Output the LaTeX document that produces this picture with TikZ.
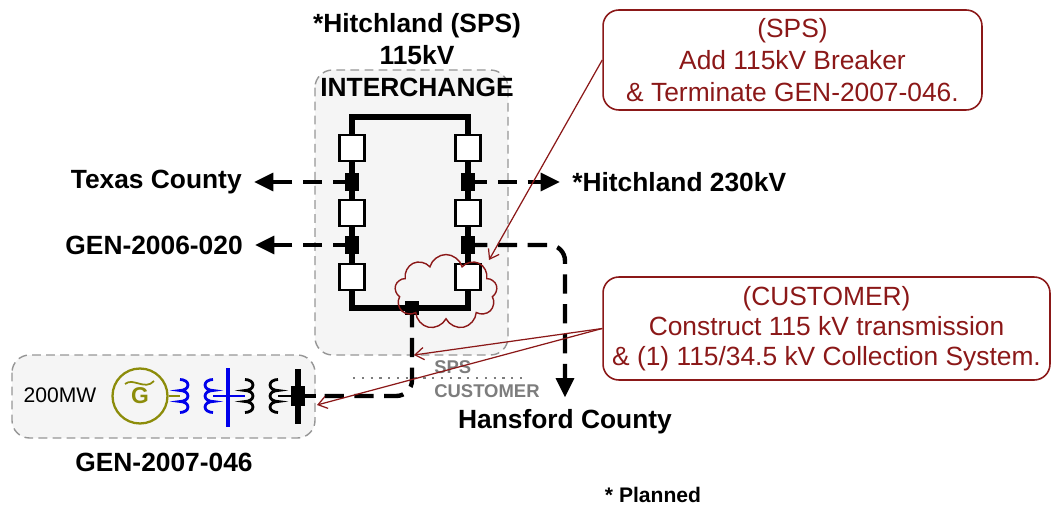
\documentclass[tikz,border=0pt]{standalone}
\usepackage{fontspec}
\setmainfont{Liberation Sans}
\usetikzlibrary{shapes.symbols}
\usetikzlibrary{arrows.meta}

\definecolor{noteRed}{RGB}{139,24,24}
\definecolor{genOlive}{RGB}{140,140,10}
\definecolor{busBlue}{RGB}{0,0,235}
\definecolor{areaGray}{RGB}{150,150,150}
\definecolor{areaFill}{RGB}{245,245,245}
\definecolor{sideGray}{RGB}{125,125,125}

\tikzset{
  area/.style={draw=areaGray, fill=areaFill, line width=0.8pt, dash pattern=on 5pt off 3pt, rounded corners=10pt},
  lbl/.style={font=\fontsize{15}{18}\selectfont\bfseries, inner sep=0pt, outer sep=7pt},
  ring/.style={line width=3.8pt},
  breaker/.style={draw, fill=white, line width=1.5pt, minimum width=14pt, minimum height=15pt, inner sep=0pt},
  junc/.style={fill=black, inner sep=0pt, minimum width=7.5pt, minimum height=10pt},
  feeder/.style={line width=2.5pt, dash pattern=on 11pt off 6pt, -{Triangle[length=11pt,width=10pt]}},
  link/.style={line width=2.5pt, dash pattern=on 11pt off 6pt, rounded corners=9pt},
  note/.style={draw=noteRed, text=noteRed, line width=0.9pt, rounded corners=9pt, align=center, inner sep=2pt},
  pointer/.style={draw=noteRed, line width=0.7pt, -{Straight Barb[length=5pt,width=7pt]}},
  side/.style={font=\fontsize{10.5}{12}\selectfont\bfseries, text=sideGray, inner sep=0pt, anchor=west}
}

\begin{document}
\begin{tikzpicture}[x=0.02cm,y=0.02cm]
  \useasboundingbox (0,0) rectangle (1052,-510);

  % station areas
  \draw[area] (315,-70) rectangle (508,-355);
  \draw[area] (12,-355) rectangle (315,-438);

  % ring bus
  \draw[ring] (352,-117) rectangle (468,-308);
  \foreach \y [count=\i] in {148,213,277} {
    \node[breaker] (brkL\i) at (352,-\y) {};
    \node[breaker] (brkR\i) at (468,-\y) {};
  }
  \foreach \y [count=\i] in {182,245} {
    \node[junc] (jnL\i) at (352,-\y) {};
    \node[junc] (jnR\i) at (468,-\y) {};
  }
  \node[junc, minimum width=8.5pt, minimum height=8.5pt] (jnB) at (412,-308) {};

  \node[lbl, align=center] (title) at (417,-55) {*Hitchland (SPS)\\115kV\\INTERCHANGE};
  \node[lbl, anchor=east] (texas) at (254,-182) {Texas County};
  \node[lbl, anchor=east] (gen020) at (255,-245) {GEN-2006-020};
  \node[lbl, anchor=west] (hitch230) at (560,-182) {*Hitchland 230kV};
  \node[lbl] (hansford) at (565,-422) {Hansford County};
  \node[lbl] (genName) at (164,-462) {GEN-2007-046};
  \node[font=\fontsize{12}{14}\selectfont\bfseries] (planned) at (653,-495) {* Planned};

  % lines out of the ring
  \draw[feeder] (jnL1.center) -- (texas);
  \draw[feeder] (jnL2.center) -- (gen020);
  \draw[feeder] (jnR1.center) -- (hitch230);
  \draw[feeder, rounded corners=9pt] (jnR2.center) -| (hansford);

  % generator
  \node[font=\fontsize{12}{14}\selectfont, inner sep=0pt] (rating) at (60,-395) {200MW};
  \node[circle, draw=genOlive, line width=1.3pt, minimum size=1.1cm, inner sep=0pt,
        text=genOlive, font=\fontsize{13}{15}\selectfont\bfseries] (gen) at (140,-396) {G};
  \draw[genOlive, line width=1pt] (125,-384) .. controls (133,-377) and (145,-391) .. (154,-381);
  \draw[genOlive, line width=1.5pt] (gen) -- (180,-396);
  \foreach \cx/\da/\col in {180/-180/busBlue, 213/180/busBlue, 245/-180/black, 278/180/black}
    \draw[\col, line width=1.6pt] (\cx,-379.5) arc[start angle=90, delta angle=\da, x radius=8, y radius=5.5]
      arc[start angle=90, delta angle=\da, x radius=8, y radius=5.5] arc[start angle=90, delta angle=\da, x radius=8, y radius=5.5];
  \draw[busBlue, line width=1.5pt] (213,-396) -- (245,-396);
  \draw[busBlue, line width=2.8pt] (228,-368) -- (228,-427);
  \draw[line width=1.5pt] (278,-396) -- (298,-396);
  \draw[line width=3pt] (298,-369) -- (298,-424);
  \node[junc, minimum height=11pt] (genBus) at (298,-396) {};
  \coordinate (genEnd) at (316,-396);
  \draw[line width=2.5pt] (genBus.center) -- (genEnd);
  \draw[link] (jnB.center) |- (genEnd);

  % ownership boundary
  \draw[sideGray, line width=1.3pt, dash pattern=on 1.3pt off 3.7pt] (353,-378) -- (527,-378);
  \node[side] (spsSide) at (434,-367) {SPS};
  \node[side] (custSide) at (434,-391) {CUSTOMER};

  % notes
  \node[cloud, draw=noteRed, line width=0.8pt, cloud puffs=9, minimum width=2.05cm, minimum height=1.5cm] (cloud) at (446,-292) {};
  \node[note, font=\fontsize{15}{18}\selectfont, minimum width=7.58cm, minimum height=2cm] (spsNote) at (792.5,-60)
    {(SPS)\\Add 115kV Breaker\\\& Terminate GEN-2007-046.};
  \node[note, font=\fontsize{15}{17}\selectfont, minimum width=8.94cm, minimum height=2.06cm] (custNote) at (826.5,-328.5)
    {(CUSTOMER)\\Construct 115 kV transmission\\\& (1) 115/34.5 kV Collection System.};
  \coordinate (cloudTip) at (489,-260);
  \coordinate (lineTip) at (414,-355);
  \coordinate (genTip) at (317,-405);
  \draw[pointer] (spsNote.west) -- (cloudTip);
  \draw[pointer] (custNote.west) -- (lineTip);
  \draw[pointer] (custNote.west) -- (genTip);
\end{tikzpicture}
\end{document}
